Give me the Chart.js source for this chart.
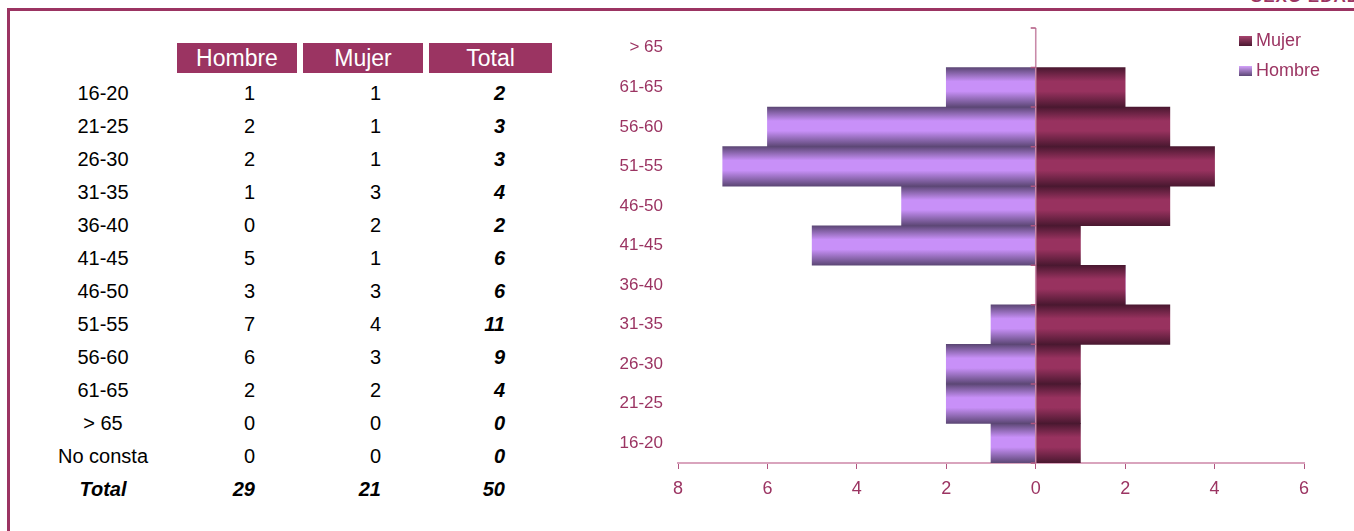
<!DOCTYPE html>
<html>
<head>
<meta charset="utf-8">
<script src="https://cdn.jsdelivr.net/npm/chart.js@4"></script>
<style>
  body { margin: 0; width: 1354px; height: 531px; overflow: hidden; background: #fff; font-family: "Liberation Sans", Arial, sans-serif; position: relative; }
  .frame { position: absolute; left: 7px; top: 8px; width: 1400px; height: 600px; border-left: 3px solid #9b3462; border-top: 3px solid #9b3462; }
  .heading { position: absolute; right: -6px; top: -13px; color: #9b3462; font-size: 17px; font-weight: bold; letter-spacing: 1px; }
  .cell { position: absolute; height: 30px; line-height: 30px; font-size: 20px; color: #000; }
  .head { background: #9b3462; color: #fff; text-align: center; font-size: 23px; }
  .bi { font-weight: bold; font-style: italic; }
  .chart-box { position: absolute; left: 600px; top: 0; width: 754px; height: 531px; }
  .legend { position: absolute; left: 1239px; top: 30px; color: #9b3462; font-size: 18px; }
  .legend div { height: 30px; line-height: 20px; }
  .legend span.box { display: inline-block; width: 13px; height: 10px; margin-right: 4px; vertical-align: 0px; }
</style>
</head>
<body>
<div class="frame"></div>
<div class="heading">SEXO EDAD</div>
<div id="table"></div>
<div class="chart-box"><canvas id="pyramid"></canvas></div>
<div class="legend">
  <div><span class="box" style="background: linear-gradient(#a8446f, #4a1830)"></span>Mujer</div>
  <div><span class="box" style="background: linear-gradient(#d4a2fb, #5c4775)"></span>Hombre</div>
</div>
<script>
const ageGroups = ["16-20", "21-25", "26-30", "31-35", "36-40", "41-45", "46-50", "51-55", "56-60", "61-65", "> 65", "No consta"];
const hombre = [1, 2, 2, 1, 0, 5, 3, 7, 6, 2, 0, 0];
const mujer = [1, 1, 1, 3, 2, 1, 3, 4, 3, 2, 0, 0];
const total = [2, 3, 3, 4, 2, 6, 6, 11, 9, 4, 0, 0];
const totalRow = ["Total", 29, 21, 50];
const headers = ["Hombre", "Mujer", "Total"];
const xTicks = { min: -8, max: 6, step: 2 };

// tabla de la izquierda
const table = document.getElementById("table");
const cols = [{ left: 177, width: 120 }, { left: 303, width: 120 }, { left: 429, width: 123 }];
let html = "";
headers.forEach((h, i) => {
  html += `<div class="cell head" style="left:${cols[i].left}px;top:43px;width:${cols[i].width}px">${h}</div>`;
});
const rows = ageGroups.map((g, i) => [g, hombre[i], mujer[i], total[i]]);
rows.push(totalRow);
rows.forEach((r, i) => {
  const top = 78 + i * 33;
  const last = i === rows.length - 1;
  html += `<div class="cell ${last ? 'bi' : ''}" style="left:40px;width:126px;top:${top}px;text-align:center">${r[0]}</div>`;
  for (let c = 0; c < 3; c++) {
    const pad = c === 2 ? 47 : 42;
    const cls = (last || c === 2) ? 'bi' : '';
    html += `<div class="cell ${cls}" style="left:${cols[c].left}px;width:${cols[c].width - pad}px;top:${top}px;text-align:right">${r[c + 1]}</div>`;
  }
});
table.innerHTML = html;

// grafico piramide
const n = 11;
const chartLabels = ageGroups.slice(0, n);
const hombreNeg = hombre.slice(0, n).map(v => -v);
const mujerVals = mujer.slice(0, n);

function bandGradient(dark, light) {
  return (context) => {
    const { ctx, chartArea, scales } = context.chart;
    if (!chartArea || context.type !== 'data') return light;
    const y = scales.y;
    const a = y.getPixelForValue(context.dataIndex - 0.5);
    const b = y.getPixelForValue(context.dataIndex + 0.5);
    const g = ctx.createLinearGradient(0, Math.min(a, b), 0, Math.max(a, b));
    g.addColorStop(0, dark);
    g.addColorStop(0.35, light);
    g.addColorStop(0.6, light);
    g.addColorStop(1, dark);
    return g;
  };
}

const zeroAxis = {
  id: 'zeroAxis',
  afterDatasetsDraw(chart) {
    const { ctx, scales: { x, y }, chartArea } = chart;
    const x0 = x.getPixelForValue(0);
    ctx.save();
    ctx.strokeStyle = '#c98aa8';
    ctx.lineWidth = 1.5;
    ctx.beginPath();
    ctx.moveTo(x0, chartArea.top);
    ctx.lineTo(x0, chartArea.bottom);
    ctx.stroke();
    ctx.strokeStyle = '#b0557f';
    ctx.beginPath();
    for (let i = 0; i <= n; i++) {
      const py = y.getPixelForValue(i - 0.5);
      ctx.moveTo(x0 - 5, py);
      ctx.lineTo(x0, py);
    }
    ctx.stroke();
    ctx.restore();
  }
};

new Chart(document.getElementById('pyramid'), {
  type: 'bar',
  data: {
    labels: chartLabels,
    datasets: [
      {
        label: 'Mujer',
        data: mujerVals,
        backgroundColor: bandGradient('#4a1830', '#98325f'),
        barPercentage: 1,
        categoryPercentage: 1
      },
      {
        label: 'Hombre',
        data: hombreNeg,
        backgroundColor: bandGradient('#5c4775', '#c890f8'),
        barPercentage: 1,
        categoryPercentage: 1
      }
    ]
  },
  options: {
    indexAxis: 'y',
    responsive: true,
    maintainAspectRatio: false,
    animation: false,
    layout: { padding: { top: 28, right: 50 } },
    plugins: { legend: { display: false }, tooltip: { enabled: false } },
    scales: {
      x: {
        stacked: true,
        min: xTicks.min,
        max: xTicks.max,
        afterFit: (s) => { s.height = 68; },
        ticks: {
          stepSize: xTicks.step,
          color: '#9b3462',
          font: { family: 'Liberation Sans', size: 18 },
          padding: 9,
          callback: (v) => Math.abs(v)
        },
        grid: { drawOnChartArea: false, drawTicks: true, tickLength: 6, color: '#b0557f' },
        border: { color: '#d9a4bd', width: 2 }
      },
      y: {
        stacked: true,
        reverse: true,
        afterFit: (s) => { s.width = 78; },
        ticks: {
          color: '#9b3462',
          font: { family: 'Liberation Sans', size: 17 },
          padding: 15
        },
        grid: { display: false, drawTicks: false },
        border: { display: false }
      }
    }
  },
  plugins: [zeroAxis]
});
</script>
</body>
</html>
